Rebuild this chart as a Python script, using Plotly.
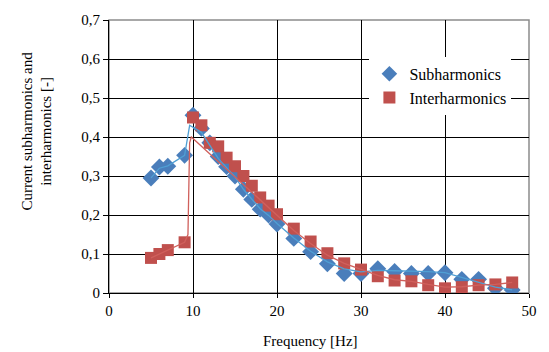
import plotly.graph_objects as go

# Marker data
sub_f = [5, 6, 7, 9, 10, 11, 12, 13, 14, 15, 16, 17, 18, 19, 20, 22, 24, 26, 28, 30, 32, 34, 36, 38, 40, 42, 44, 46, 48]
sub_v = [0.295, 0.323, 0.325, 0.353, 0.456, 0.422, 0.385, 0.35, 0.324, 0.30, 0.266, 0.24, 0.215, 0.20, 0.177, 0.14, 0.106, 0.075, 0.05, 0.05, 0.062, 0.055, 0.05, 0.05, 0.052, 0.035, 0.035, 0.012, 0.008]

inter_f = [5, 6, 7, 9, 10, 11, 12, 13, 14, 15, 16, 17, 18, 19, 20, 22, 24, 26, 28, 30, 32, 34, 36, 38, 40, 42, 44, 46, 48]
inter_v = [0.09, 0.10, 0.11, 0.13, 0.45, 0.43, 0.385, 0.376, 0.347, 0.325, 0.30, 0.275, 0.245, 0.224, 0.202, 0.165, 0.132, 0.102, 0.076, 0.06, 0.043, 0.032, 0.03, 0.02, 0.012, 0.015, 0.02, 0.022, 0.027]

# Smoothed curve data (drawn as lines)
sub_line_f = [5, 6, 7, 9, 9.6, 11, 13, 14, 15, 16, 17, 18, 19, 20, 22, 24, 26, 28, 30, 32, 34, 36, 38, 40, 42, 44, 46, 48]
sub_line_v = [0.295, 0.32, 0.326, 0.353, 0.43, 0.412, 0.345, 0.322, 0.298, 0.266, 0.24, 0.216, 0.199, 0.178, 0.141, 0.107, 0.08, 0.062, 0.054, 0.058, 0.057, 0.056, 0.055, 0.052, 0.04, 0.027, 0.015, 0.008]

inter_line_f = [5, 6, 7, 9, 9.4, 9.5, 9.6, 9.8, 20, 22, 24, 26, 28, 30, 32, 34, 36, 38, 40, 42, 44, 46, 48]
inter_line_v = [0.09, 0.10, 0.11, 0.13, 0.15, 0.30, 0.385, 0.40, 0.198, 0.16, 0.127, 0.097, 0.076, 0.06, 0.045, 0.034, 0.03, 0.022, 0.015, 0.016, 0.02, 0.022, 0.027]

x_ticks = [0, 10, 20, 30, 40, 50]
y_ticks = [0, 0.1, 0.2, 0.3, 0.4, 0.5, 0.6, 0.7]

BLUE = "#4A7EBB"
RED = "#C0504D"
FONT = "Liberation Serif"

fig = go.Figure()
fig.add_trace(go.Scatter(x=sub_f, y=sub_v, mode="markers", name="Subharmonics",
                         marker=dict(symbol="diamond", size=13, color=BLUE)))
fig.add_trace(go.Scatter(x=inter_f, y=inter_v, mode="markers", name="Interharmonics",
                         marker=dict(symbol="square", size=12, color=RED)))
fig.add_trace(go.Scatter(x=sub_line_f, y=sub_line_v, mode="lines", showlegend=False,
                         line=dict(color="#4F9FD4", width=1.3), hoverinfo="skip"))
fig.add_trace(go.Scatter(x=inter_line_f, y=inter_line_v, mode="lines", showlegend=False,
                         line=dict(color="#D0605C", width=1.3), hoverinfo="skip"))

fig.update_layout(
    width=549, height=352,
    margin=dict(l=109, r=17, t=12, b=59),
    paper_bgcolor="white", plot_bgcolor="white",
    separators=", ",
    font=dict(family=FONT, size=15, color="black"),
    showlegend=True,
    legend=dict(x=0.62, y=0.865, xanchor="left", yanchor="top",
                bgcolor="white", borderwidth=0,
                font=dict(family=FONT, size=16), tracegroupgap=0,
                itemsizing="constant"),
    xaxis=dict(range=[0, 50], tickvals=x_ticks, showgrid=True, gridcolor="#000000",
               gridwidth=1, zeroline=False, showline=True, linecolor="black", linewidth=1,
               ticks="outside", ticklen=4, tickcolor="black",
               tickfont=dict(family=FONT, size=15)),
    yaxis=dict(range=[0, 0.7], tickvals=y_ticks, showgrid=True, gridcolor="#000000",
               gridwidth=1, zeroline=False, showline=True, linecolor="black", linewidth=1,
               ticks="outside", ticklen=5, tickcolor="black",
               tickfont=dict(family=FONT, size=15)),
    shapes=[dict(type="rect", xref="paper", yref="paper", x0=0, y0=0, x1=1, y1=1,
                 line=dict(color="#8C8C8C", width=1.5), layer="below")],
    annotations=[
        dict(text="Current subharmonics and<br>interharmonics [-]", xref="paper", yref="paper",
             x=-0.172, y=0.594, textangle=-90, showarrow=False,
             font=dict(family=FONT, size=15), xanchor="center", yanchor="middle"),
        dict(text="Frequency [Hz]", xref="paper", yref="paper",
             x=0.48, y=-0.175, showarrow=False,
             font=dict(family=FONT, size=15), xanchor="center", yanchor="middle"),
    ],
)

fig.write_html("out.html", config={"displayModeBar": False},
               post_script="document.body.style.margin='0';document.body.style.overflow='hidden';")
